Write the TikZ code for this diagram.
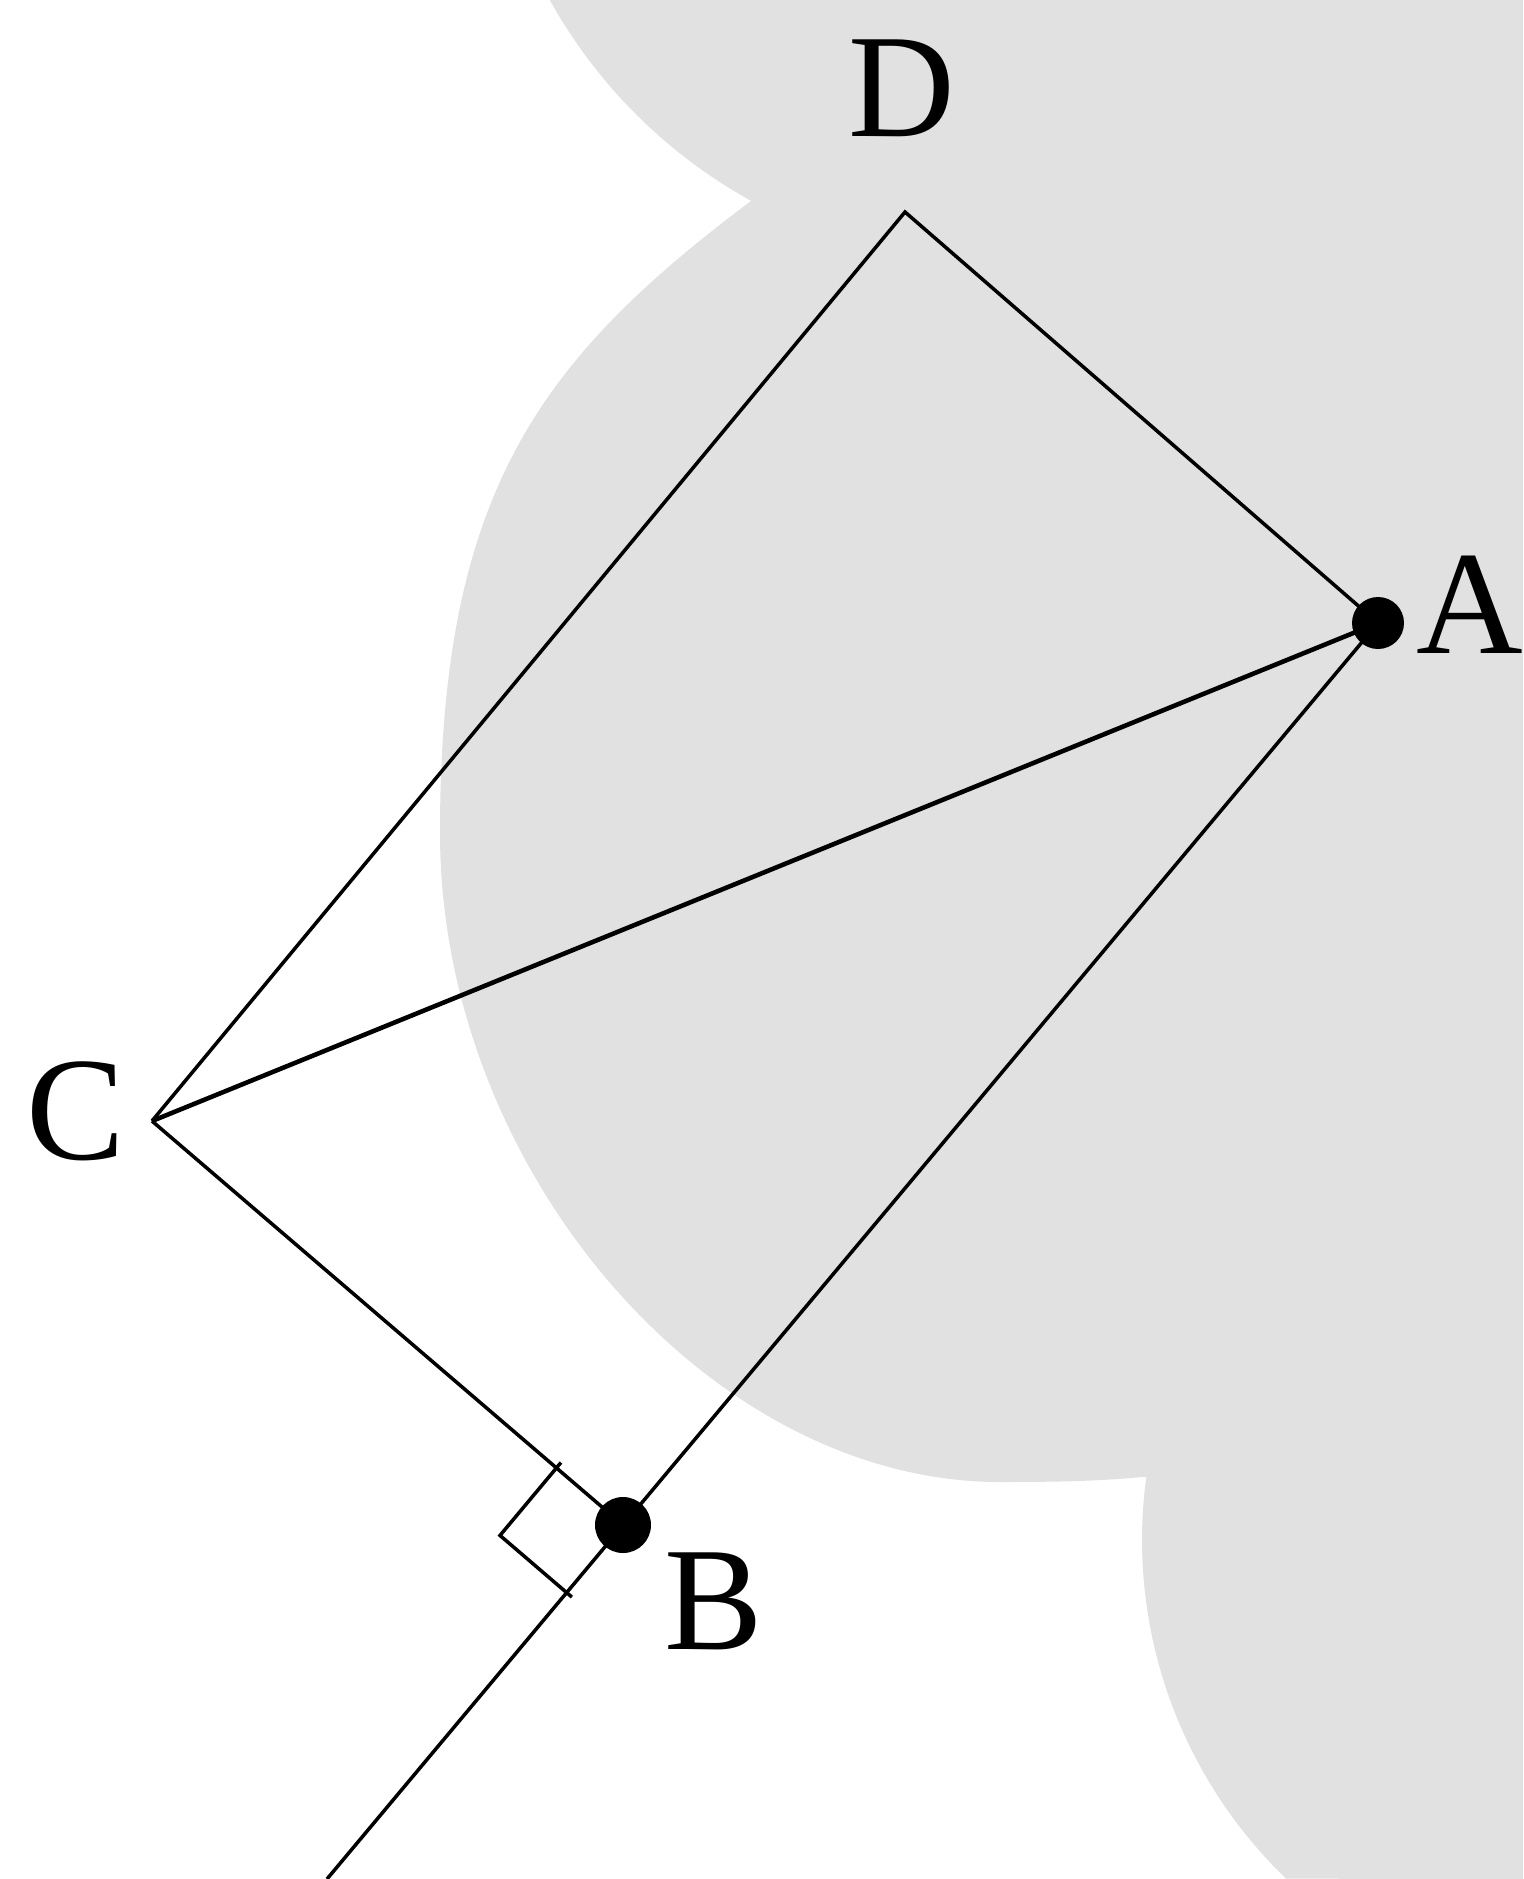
\documentclass[tikz,border=0pt]{standalone}
\usepackage{fontspec}
\setmainfont{Liberation Serif}
\usetikzlibrary{calc}
\definecolor{bggray}{RGB}{225,225,225}
\begin{document}
\begin{tikzpicture}[x=0.01cm,y=-0.01cm,
  edge/.style={line width=1.0pt, black, line join=miter},
  diag/.style={line width=1.3pt, black},
  lab/.style={font=\fontsize{42}{42}\selectfont, inner sep=0pt, anchor=center}]
\useasboundingbox (0,0) rectangle (1523,1879);
\clip (0,0) rectangle (1523,1879);
% grey background cloud
\fill[bggray] (545,0)
  -- plot[domain=151.2:118.9,samples=40] ({1000+515*cos(\x)},{-250+515*sin(\x)})
  .. controls (539,360) and (440,493) .. (440,833)
  .. controls (440,1170) and (709,1482) .. (1000,1482)
  .. controls (1060,1482) and (1100,1481) .. (1142,1477)
  -- plot[domain=187.7:133.9,samples=50] ({1612+470*cos(\x)},{1540+470*sin(\x)})
  -- (1523,1879) -- (1523,0) -- cycle;
% points
\coordinate (A) at (1378,623);
\coordinate (B) at (623,1525);
\coordinate (C) at (152,1121);
\coordinate (D) at (905,212);
\coordinate (E) at (327,1879);
% sides
\draw[edge] (C) -- (D) -- (A);
\draw[edge] (C) -- (B);
\draw[edge] (A) -- (E);
\draw[diag] (C) -- (A);
% right angle mark at B
\coordinate (P1) at ($(B)!0.1413!(C)$);
\coordinate (P2) at ($(B)!0.1907!(E)$);
\coordinate (Q) at ($(P1)+(P2)-(B)$);
\draw[edge] ($(Q)!1.08!(P1)$) -- (Q) -- ($(Q)!1.08!(P2)$);
% dots
\fill (A) circle[radius=26];
\fill (B) circle[radius=28];
% labels
\node[lab] (lA) at (1470,605) {A};
\node[lab] (lB) at (714,1601) {B};
\node[lab] (lC) at (76,1111) {C};
\node[lab] (lD) at (902,88) {D};
\end{tikzpicture}
\end{document}
